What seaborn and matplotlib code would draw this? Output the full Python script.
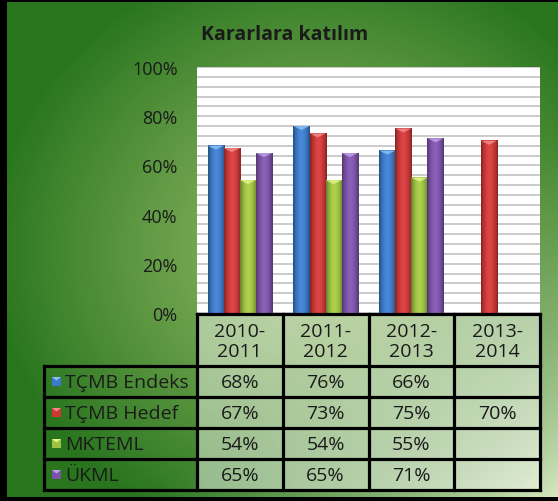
import numpy as np
import pandas as pd
import matplotlib
matplotlib.use("Agg")
import matplotlib.pyplot as plt
import seaborn as sns
from matplotlib.patches import Rectangle, Polygon
from matplotlib.colors import to_rgb

# ---------------- data ----------------
title = "Kararlara katılım"
categories = ["2010-\n2011", "2011-\n2012", "2012-\n2013", "2013-\n2014"]
series = ["TÇMB Endeks", "TÇMB Hedef", "MKTEML", "ÜKML"]
tcmb_endeks = [68, 76, 66, np.nan]
tcmb_hedef = [67, 73, 75, 70]
mkteml = [54, 54, 55, np.nan]
ukml = [65, 65, 71, np.nan]
y_ticks_major = [0, 20, 40, 60, 80, 100]

values = [tcmb_endeks, tcmb_hedef, mkteml, ukml]
colors = ["#3a7acb", "#cf3737", "#9fc340", "#7d52ab"]
light = ["#8cc0f4", "#f08a8a", "#e2f48a", "#c0a0e8"]

rows = []
for s, vals in zip(series, values):
    for c, v in zip(categories, vals):
        rows.append({"cat": c, "series": s, "val": v / 100.0})
df = pd.DataFrame(rows).dropna()

FONT = "Open Sans"
TXT = "#1a1a1a"
W, H = 558, 502

sns.set_theme(style="white")
plt.rcParams["font.family"] = [FONT, "DejaVu Sans"]

fig = plt.figure(figsize=(W / 100, H / 100), dpi=100)

# ---------------- background gradient ----------------
bg = fig.add_axes([0, 0, 1, 1])
yy, xx = np.mgrid[0:H, 0:W]
dark = np.array([0.16, 0.46, 0.12])
mid = np.array([0.58, 0.73, 0.40])
hl = np.array([0.86, 0.92, 0.77])
r = np.sqrt(((xx - 320) / 330.0) ** 2 + ((yy - 250) / 300.0) ** 2)
t = np.clip(r, 0, 1) ** 1.2
img = mid[None, None, :] * (1 - t[..., None]) + dark[None, None, :] * t[..., None]
h = np.clip((xx / W + yy / H - 1.25) / 0.75, 0, 1) ** 1.4
img = img * (1 - h[..., None]) + hl[None, None, :] * h[..., None]
bg.imshow(img, extent=(0, W, H, 0), aspect="auto", interpolation="bilinear")
bg.set_xlim(0, W)
bg.set_ylim(H, 0)
bg.axis("off")

# ---------------- bar chart ----------------
L, R, T, B = 197, 540, 68, 314
ax = fig.add_axes([L / W, 1 - B / H, (R - L) / W, (B - T) / H])
ax.set_facecolor("white")
sns.barplot(data=df, x="cat", y="val", hue="series", order=categories,
            hue_order=series, palette=colors, width=0.75, gap=0,
            dodge=True, legend=False, ax=ax, zorder=3, linewidth=0,
            err_kws={"linewidth": 0})
ax.set_ylim(0, 1)
ax.set_xlim(-0.5, len(categories) - 0.5)
grid_ticks = np.arange(0, 1.0001, 0.04)
ax.set_yticks(grid_ticks)
ax.set_yticklabels([f"{int(round(v*100))}%" if int(round(v*100)) in y_ticks_major else "" for v in grid_ticks])
ax.yaxis.grid(True, color="#c2c2c2", linewidth=1.2, zorder=0)
ax.tick_params(axis="y", length=0, pad=14, labelsize=13, labelcolor=TXT)
ax.tick_params(axis="x", length=0, labelbottom=False)
ax.set_xlabel("")
ax.set_ylabel("")
for sp in ax.spines.values():
    sp.set_visible(False)

# shading on bars
hue_color = {to_rgb(c): (c, l) for c, l in zip(colors, light)}
for p in list(ax.patches):
    x0, y0 = p.get_x(), p.get_y()
    w, hgt = p.get_width(), p.get_height()
    if not np.isfinite(hgt) or hgt <= 0:
        continue
    fc = tuple(p.get_facecolor()[:3])
    key = min(hue_color.keys(), key=lambda k: sum((a - b) ** 2 for a, b in zip(k, fc)))
    base, lt = hue_color[key]
    b = np.array(to_rgb(base))
    xs = np.linspace(-1, 1, 40)
    f = 1 - 0.35 * np.abs(xs) ** 2.2
    grad = np.clip(b[None, :] * f[:, None] + 0.06 * (1 - np.abs(xs))[:, None], 0, 1)
    ax.imshow(grad[None, :, :], extent=(x0, x0 + w, y0, y0 + hgt), aspect="auto",
              zorder=4, interpolation="bilinear")
    tri = Polygon([(x0, y0 + hgt), (x0 + w, y0 + hgt), (x0 + w / 2, y0 + hgt - 0.016)],
                  closed=True, facecolor=lt, edgecolor="none", zorder=5, alpha=0.85)
    ax.add_patch(tri)
ax.set_xlim(-0.5, len(categories) - 0.5)
ax.set_ylim(0, 1)

# ---------------- table overlay ----------------
ov = fig.add_axes([0, 0, 1, 1], zorder=10)
ov.set_xlim(0, W)
ov.set_ylim(H, 0)
ov.axis("off")
ov.patch.set_alpha(0)

col_x = np.linspace(L, R, len(categories) + 1)
row_y = [315, 367, 398, 429, 460, 491]
lab_x0 = 44
lw = 2.3
FS = 14

# header cells
for j, c in enumerate(categories):
    ov.add_patch(Rectangle((col_x[j], row_y[0]), col_x[j + 1] - col_x[j], row_y[1] - row_y[0],
                           facecolor="white", alpha=0.45, edgecolor="none"))
    ov.text((col_x[j] + col_x[j + 1]) / 2, (row_y[0] + row_y[1]) / 2 + 1, c,
            ha="center", va="center", fontsize=FS, color=TXT, linespacing=1.1)
# data cells
for i, s in enumerate(series):
    y0, y1 = row_y[i + 1], row_y[i + 2]
    for j in range(len(categories)):
        ov.add_patch(Rectangle((col_x[j], y0), col_x[j + 1] - col_x[j], y1 - y0,
                               facecolor="white", alpha=0.45, edgecolor="none"))
        v = values[i][j]
        if np.isfinite(v):
            ov.text((col_x[j] + col_x[j + 1]) / 2, (y0 + y1) / 2 + 1, f"{int(v)}%",
                    ha="center", va="center", fontsize=FS, color=TXT)
    # legend key
    ky = (y0 + y1) / 2
    ks = 9
    ov.add_patch(Rectangle((52, ky - ks / 2), ks, ks, facecolor=colors[i], edgecolor="none"))
    ov.add_patch(Polygon([(52, ky - ks / 2), (52 + ks, ky - ks / 2), (52 + ks / 2, ky - ks / 2 + 3.5)],
                         closed=True, facecolor=light[i], edgecolor="none"))
    ov.text(65, ky + 1, s, ha="left", va="center", fontsize=FS, color=TXT)

# grid lines of table
for x in col_x:
    ov.plot([x, x], [row_y[0], row_y[-1]], color="black", lw=lw, solid_capstyle="projecting")
ov.plot([lab_x0, lab_x0], [row_y[1], row_y[-1]], color="black", lw=lw, solid_capstyle="projecting")
ov.plot([col_x[0], col_x[-1]], [row_y[0], row_y[0]], color="black", lw=lw, solid_capstyle="projecting")
for y in row_y[1:]:
    ov.plot([lab_x0, col_x[-1]], [y, y], color="black", lw=lw, solid_capstyle="projecting")

# title
ov.text(285, 35, title, ha="center", va="center", fontsize=14, fontweight="bold", color=TXT)

# outer black frame
ov.add_patch(Rectangle((0, 0), 7, H, facecolor="black", edgecolor="none"))
ov.add_patch(Rectangle((0, 0), W, 3, facecolor="black", edgecolor="none"))
ov.add_patch(Rectangle((0, H - 4), W, 4, facecolor="black", edgecolor="none"))

fig.savefig("out.png", dpi=100)
